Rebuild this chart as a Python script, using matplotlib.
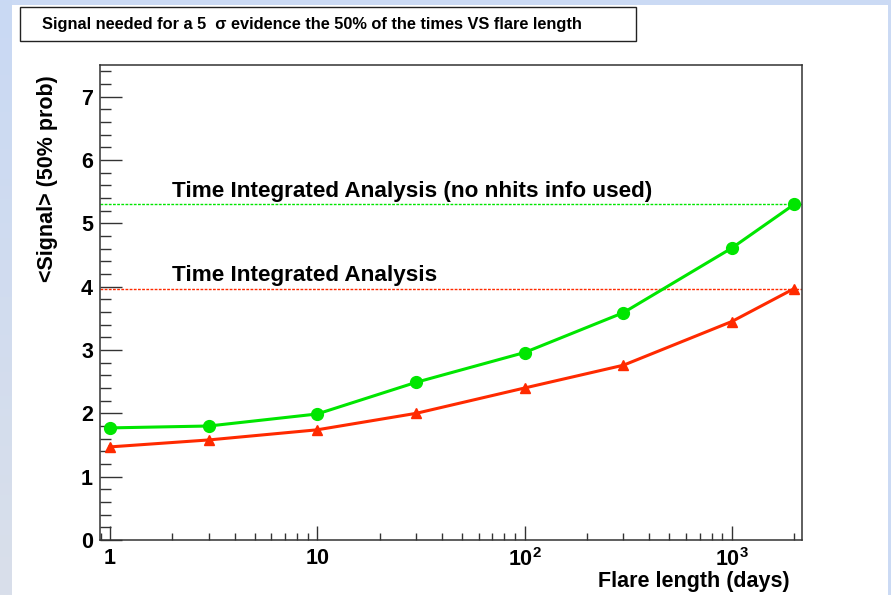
import numpy as np
import matplotlib
matplotlib.use("Agg")
import matplotlib.pyplot as plt
from matplotlib.patches import Rectangle
from matplotlib.colors import LinearSegmentedColormap

plt.rcParams['font.family'] = ['Liberation Sans', 'DejaVu Sans']
plt.rcParams['font.weight'] = 'bold'
plt.rcParams['mathtext.fontset'] = 'custom'
plt.rcParams['mathtext.rm'] = 'Liberation Sans:bold'
plt.rcParams['mathtext.bf'] = 'Liberation Sans:bold'

# flare length (days) and signal needed for 5 sigma evidence in 50% of trials
flare_days = [1, 3, 10, 30, 100, 300, 1000, 2000]
signal_no_nhits = [1.77, 1.80, 1.99, 2.49, 2.96, 3.59, 4.61, 5.30]
signal_nhits = [1.47, 1.58, 1.74, 2.00, 2.40, 2.76, 3.45, 3.97]

# time integrated reference levels
ti_no_nhits = 5.30
ti_nhits = 3.97

x_ticks = [1, 10, 100, 1000]
x_ticklabels = ['1', '10', r'$10^{2}$', r'$10^{3}$']

green = '#00e600'
red = '#ff2a00'

fig = plt.figure(figsize=(8.91, 5.95), dpi=100, facecolor='#cbdaf4')

# slide background: gradient strip on the left, white panel
bg = fig.add_axes([0, 0, 12 / 891, 1], zorder=-5)
grad = np.linspace(0, 1, 256).reshape(-1, 1)
cm = LinearSegmentedColormap.from_list('bg', ['#c9d9f4', '#d9dfea'])
bg.imshow(grad, aspect='auto', cmap=cm, extent=[0, 1, 1, 0])
bg.set_axis_off()
fig.patches.append(Rectangle((12 / 891, 0), 876 / 891, 1 - 5 / 595,
                             transform=fig.transFigure, facecolor='white',
                             edgecolor='none', zorder=-4))

# title box
fig.patches.append(Rectangle((20 / 891, 1 - 41 / 595), 616 / 891, 34 / 595,
                             transform=fig.transFigure, facecolor='white',
                             edgecolor='#222222', linewidth=1.0, zorder=1))
fig.text(42 / 891, 1 - 24 / 595,
         'Signal needed for a 5  \u03c3 evidence the 50% of the times VS flare length',
         fontsize=11.8, fontweight='bold', va='center', ha='left', zorder=2)

ax = fig.add_axes([100 / 891, 1 - 540 / 595, 702 / 891, 475 / 595])
ax.set_facecolor('white')
ax.set_xscale('log')
ax.set_xlim(0.895, 2180)
ax.set_ylim(0, 7.5)

ax.axhline(ti_no_nhits, color=green, lw=1.0, ls=(0, (2, 1)))
ax.axhline(ti_nhits, color=red, lw=1.0, ls=(0, (2, 1)))
ax.text(2.0, ti_no_nhits + 0.12, 'Time Integrated Analysis (no nhits info used)',
        fontsize=16.2, fontweight='bold', va='baseline', ha='left')
ax.text(2.0, ti_nhits + 0.12, 'Time Integrated Analysis',
        fontsize=16.2, fontweight='bold', va='baseline', ha='left')

ax.plot(flare_days, signal_no_nhits, color=green, lw=2.2, marker='o',
        markersize=8.5, zorder=3)
ax.plot(flare_days, signal_nhits, color=red, lw=2.2, marker='^',
        markersize=7.5, zorder=3)

for side in ['top', 'right', 'bottom', 'left']:
    ax.spines[side].set_linewidth(1.1)
    ax.spines[side].set_color('#333333')

ax.set_xticks(x_ticks)
ax.set_xticklabels(x_ticklabels)
ax.xaxis.set_minor_locator(matplotlib.ticker.LogLocator(base=10, subs=np.arange(2, 10), numticks=20))
ax.xaxis.set_minor_formatter(matplotlib.ticker.NullFormatter())
ax.set_yticks(range(0, 8))
ax.yaxis.set_minor_locator(matplotlib.ticker.MultipleLocator(0.2))

ax.tick_params(axis='x', which='major', direction='in', length=10, width=1,
               labelsize=15.5, pad=6, color='#333333', top=False)
ax.tick_params(axis='x', which='minor', direction='in', length=5, width=1,
               color='#333333', top=False)
ax.tick_params(axis='y', which='major', direction='in', length=16, width=1,
               labelsize=15.5, pad=5, color='#333333', right=False)
ax.tick_params(axis='y', which='minor', direction='in', length=8, width=1,
               color='#333333', right=False)
for lbl in ax.get_xticklabels() + ax.get_yticklabels():
    lbl.set_fontweight('bold')

ax.set_xlabel('Flare length (days)', fontsize=15.5, fontweight='bold')
ax.xaxis.set_label_coords(1 - 12 / 702, -31 / 475)
ax.xaxis.label.set_ha('right')
ax.set_ylabel('<Signal> (50% prob)', fontsize=15.5, fontweight='bold')
ax.yaxis.set_label_coords(-52 / 702, 1 - 10 / 475)
ax.yaxis.label.set_ha('right')
ax.yaxis.label.set_va('center')

fig.savefig('out.png', dpi=100, facecolor=fig.get_facecolor())
